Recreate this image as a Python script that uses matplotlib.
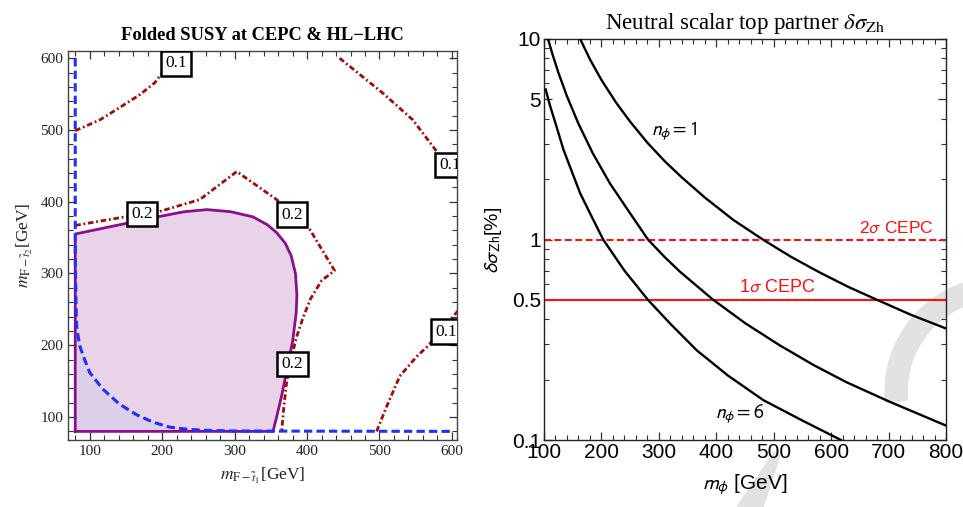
import matplotlib
matplotlib.use("Agg")
import matplotlib.pyplot as plt
from matplotlib.ticker import MultipleLocator, FixedLocator, FixedFormatter, LogLocator, NullFormatter
from matplotlib.patches import Wedge, Polygon

plt.rcParams['lines.scale_dashes'] = False

# ---------------- Left panel data ----------------
region_x = [80, 80, 194, 230, 262, 295, 325, 345, 358, 370, 378, 384, 386, 385, 380, 373, 365, 358, 353, 80]
region_y = [80, 355, 379, 386, 389, 386, 379, 368, 357, 342, 325, 300, 270, 245, 205, 170, 130, 100, 80, 80]

blue_x = [80, 80, 81, 82, 86, 91, 100, 118, 141, 165, 187, 210, 234, 260, 300, 600]
blue_y = [600, 320, 260, 225, 200, 185, 162, 139, 118, 103, 93, 86, 83, 81.5, 80.5, 80]

c02_x = [80, 172, 195, 252, 303, 358, 404, 438, 420, 405, 395, 385, 378, 372, 368, 365]
c02_y = [367, 383, 386, 403, 442, 403, 361, 304, 290, 265, 240, 210, 180, 150, 115, 80]

c01a_x = [80, 114, 141, 169, 190, 215]
c01a_y = [499, 514, 531, 549, 566, 600]

c01b_x = [445, 505, 546, 579, 610]
c01b_y = [600, 551, 514, 470, 430]

c01c_x = [496, 510, 528, 552, 567, 610]
c01c_y = [80, 115, 157, 185, 199, 250]

lab_text = ['0.1', '0.1', '0.2', '0.2', '0.2', '0.1']
lab_x = [219, 597, 172, 379, 380, 592]
lab_y = [593, 451, 383, 382, 174, 219]

left_ticks = [100, 200, 300, 400, 500, 600]

# ---------------- Right panel data ----------------
mA = [163, 180, 200, 225, 250, 280, 310, 340, 380, 430, 481, 530, 580, 630, 680, 740, 800]
yA = [10, 7.92, 6.25, 4.84, 3.87, 3.04, 2.46, 2.04, 1.62, 1.25, 1.0, 0.82, 0.685, 0.58, 0.50, 0.42, 0.36]
mB = [107, 115, 125, 140, 160, 185, 215, 250, 281, 310, 337, 394, 450, 511, 570, 627, 700, 800]
yB = [10, 8.35, 6.8, 5.18, 3.78, 2.69, 1.90, 1.35, 1.0, 0.818, 0.69, 0.502, 0.383, 0.296, 0.236, 0.194, 0.156, 0.118]
mC = [103, 110, 120, 134, 148, 163, 183, 203, 240, 281, 320, 366, 420, 482, 550, 617]
yC = [5.6, 4.7, 3.8, 2.8, 2.2, 1.7, 1.3, 1.0, 0.70, 0.50, 0.38, 0.28, 0.21, 0.158, 0.125, 0.10]
cepc_2sigma = 1.0
cepc_1sigma = 0.5
right_xticks = [100, 200, 300, 400, 500, 600, 700, 800]
right_yticks = [0.1, 0.5, 1, 5, 10]
right_ylabels = ['0.1', '0.5', '1', '5', '10']

SERIF = ['Liberation Serif', 'DejaVu Serif']
SANS = ['Liberation Sans', 'DejaVu Sans']

fig = plt.figure(figsize=(9.63, 5.07), dpi=100)

# watermark (behind everything)
px = lambda x, y: (x / 100.0, (507 - y) / 100.0)
wm = '#e2e2e2'
fig.patches.append(Wedge(px(1000, 392), 1.15, 95, 185, width=0.22, transform=fig.dpi_scale_trans,
                         color=wm, zorder=-5))
fig.patches.append(Polygon([px(737, 507), px(763, 507), px(780, 455), px(774, 452)], closed=True,
                           transform=fig.dpi_scale_trans, color=wm, zorder=-5))

# ======================= Left panel =======================
ax1 = fig.add_axes([68 / 963, 1 - 440 / 507, 389 / 963, 389 / 507])
ax1.set_xlim(70, 607)
ax1.set_ylim(68, 610)

ax1.fill(region_x, region_y, color='#e8d3e8', lw=0, zorder=1)
# slightly bluish area below the blue curve
bx = [x for x in blue_x[3:] if x <= 353]
by = blue_y[3:3 + len(bx)]
ax1.fill([80] + bx + [353, 80], [225] + by + [80, 80], color='#ddcfea', lw=0, zorder=1)
ax1.plot(region_x, region_y, color='#8a0f8a', lw=2.0, zorder=3)

ax1.plot(blue_x, blue_y, color='#1f2fff', lw=2.2, dashes=(6, 3), zorder=4)

red = '#a30a0a'
rd = (4, 2, 1.3, 2)
for xs, ys in [(c02_x, c02_y), (c01a_x, c01a_y), (c01b_x, c01b_y), (c01c_x, c01c_y)]:
    ax1.plot(xs, ys, color=red, lw=2.0, dashes=rd, zorder=3)

for t, x, y in zip(lab_text, lab_x, lab_y):
    ax1.text(x, y, t, ha='center', va='center', fontsize=12.5, family=SERIF, zorder=6, clip_on=True,
             bbox=dict(boxstyle='square,pad=0.25', fc='white', ec='black', lw=1.8))

ax1.xaxis.set_major_locator(FixedLocator(left_ticks))
ax1.yaxis.set_major_locator(FixedLocator(left_ticks))
ax1.xaxis.set_minor_locator(MultipleLocator(20))
ax1.yaxis.set_minor_locator(MultipleLocator(20))
ax1.tick_params(which='both', direction='in', top=True, right=True, colors='#333333', labelcolor='#222222')
ax1.tick_params(which='major', length=6, width=0.9, labelsize=11)
ax1.tick_params(which='minor', length=3.5, width=0.8)
for lab in ax1.get_xticklabels() + ax1.get_yticklabels():
    lab.set_family(SERIF)
for s in ax1.spines.values():
    s.set_color('#444444')
    s.set_linewidth(1.0)

ax1.set_title('Folded SUSY at CEPC & HL\u2212LHC', family=SERIF, fontweight='bold', fontsize=13.3, pad=8)
ax1.set_xlabel(r'$m_{\mathrm{F}-\tilde{t}_1}$[GeV]', family=SERIF, fontsize=12.5, math_fontfamily='stix',
               labelpad=6, color='#222222')
ax1.set_ylabel(r'$m_{\mathrm{F}-\tilde{t}_2}$[GeV]', family=SERIF, fontsize=12.5, math_fontfamily='stix',
               labelpad=4, color='#222222')

# ======================= Right panel =======================
ax2 = fig.add_axes([544 / 963, 1 - 440 / 507, 402 / 963, 401 / 507])
ax2.set_facecolor('none')
ax2.set_yscale('log')
ax2.set_xlim(100, 800)
ax2.set_ylim(0.1, 10)

for ms, ys in [(mA, yA), (mB, yB), (mC, yC)]:
    ax2.plot(ms, ys, color='black', lw=1.7, zorder=3, solid_joinstyle='round')
ax2.axhline(cepc_2sigma, color='#ff1010', lw=1.5, dashes=(5, 2.5), zorder=2)
ax2.axhline(cepc_1sigma, color='#ff1010', lw=1.5, zorder=2)

ax2.text(779, 1.04, r'2$\sigma$ CEPC', color='#ff1010', ha='right', va='bottom', fontsize=12.5,
         family=SANS, math_fontfamily='stixsans')
ax2.text(506, 0.525, r'1$\sigma$ CEPC', color='#ff1010', ha='center', va='bottom', fontsize=13,
         family=SANS, math_fontfamily='stixsans')
ax2.text(327, 3.5, r'$n_\phi = 1$', ha='center', va='center', fontsize=14, family=SANS,
         math_fontfamily='stixsans')
ax2.text(441, 0.136, r'$n_\phi = 6$', ha='center', va='center', fontsize=14, family=SANS,
         math_fontfamily='stixsans')

ax2.xaxis.set_major_locator(FixedLocator(right_xticks))
ax2.xaxis.set_minor_locator(MultipleLocator(20))
ax2.yaxis.set_major_locator(FixedLocator(right_yticks))
ax2.yaxis.set_major_formatter(FixedFormatter(right_ylabels))
ax2.yaxis.set_minor_locator(LogLocator(base=10, subs=(1, 2, 3, 4, 6, 7, 8, 9)))
ax2.yaxis.set_minor_formatter(NullFormatter())
ax2.tick_params(which='both', direction='in', top=True, right=True, colors='#333333', labelcolor='black')
ax2.tick_params(which='major', length=6, width=0.9, labelsize=15, pad=2)
ax2.tick_params(which='minor', length=3.5, width=0.8)
for lab in ax2.get_xticklabels() + ax2.get_yticklabels():
    lab.set_family(SANS)
for s in ax2.spines.values():
    s.set_color('#222222')
    s.set_linewidth(1.0)

ax2.set_title(r'Neutral scalar top partner $\delta\sigma_{\mathrm{Zh}}$', family=SERIF, fontsize=16.5,
              math_fontfamily='stix', pad=7)
ax2.set_xlabel(r'$m_\phi$ [GeV]', family=SANS, fontsize=15, math_fontfamily='stixsans', labelpad=8)
ax2.set_ylabel(r'$\delta\sigma_{\mathrm{Zh}}$[%]', family=SANS, fontsize=14, math_fontfamily='stixsans',
               labelpad=6)

fig.savefig('out.png', dpi=100)
